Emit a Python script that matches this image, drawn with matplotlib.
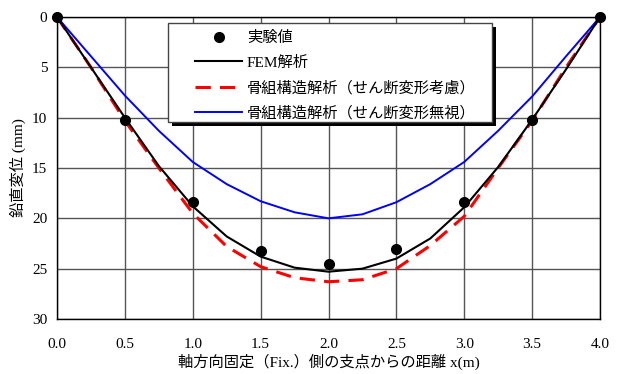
import numpy as np
import matplotlib
matplotlib.use('Agg')
import matplotlib.pyplot as plt
from matplotlib.patches import Rectangle

plt.rcParams['font.family'] = ['Liberation Serif', 'Noto Sans CJK JP']

# measured points
x_exp = [0.0, 0.5, 1.0, 1.5, 2.0, 2.5, 3.0, 3.5, 4.0]
d_exp = [0.0, 10.2, 18.4, 23.2, 24.5, 23.0, 18.4, 10.2, 0.0]

# analysis curves (x every 0.25 m)
x_ana = [0.0, 0.25, 0.5, 0.75, 1.0, 1.25, 1.5, 1.75, 2.0, 2.25, 2.5, 2.75, 3.0, 3.25, 3.5, 3.75, 4.0]
d_fem = [0.0, 5.0, 10.0, 14.8, 18.8, 21.8, 23.8, 24.9, 25.3, 25.0, 24.0, 22.0, 18.9, 14.9, 10.2, 5.2, 0.0]
d_shear = [0.0, 5.0, 10.3, 15.0, 19.5, 22.8, 24.8, 25.9, 26.3, 26.1, 25.0, 22.7, 19.8, 15.0, 10.3, 5.0, 0.0]
d_noshear = [0.0, 3.9, 7.8, 11.3, 14.4, 16.6, 18.3, 19.4, 20.0, 19.6, 18.4, 16.6, 14.4, 11.3, 7.9, 3.9, 0.0]

labels = ['実験値', 'FEM解析', '骨組構造解析（せん断変形考慮）', '骨組構造解析（せん断変形無視）']

fig = plt.figure(figsize=(6.24, 3.74), dpi=100)
ax = fig.add_axes([57/624, 1 - 319/374, 543/624, 302/374])

ax.plot(x_exp, d_exp, 'o', color='k', markersize=7, label=labels[0], zorder=5, clip_on=False)
ax.plot(x_ana, d_fem, '-', color='k', lw=1.5, label=labels[1], zorder=4)
ax.plot(x_ana, d_shear, '--', color='red', lw=2.2, dashes=(5, 3), label=labels[2], zorder=3)
ax.plot(x_ana, d_noshear, '-', color='blue', lw=1.4, label=labels[3], zorder=3)

ax.set_xlim(0, 4)
ax.set_ylim(30, 0)
ax.set_xticks(np.arange(0, 4.01, 0.5))
ax.set_xticklabels(['%.1f' % v for v in np.arange(0, 4.01, 0.5)])
ax.set_yticks(np.arange(0, 31, 5))
ax.grid(True, color='#555555', lw=1.0)
ax.tick_params(labelsize=11, length=0)
ax.tick_params(axis='x', pad=14)
ax.tick_params(axis='y', pad=7)
for s in ax.spines.values():
    s.set_linewidth(1.0)

ax.set_xlabel('軸方向固定（Fix.）側の支点からの距離 x(m)', fontsize=11, labelpad=2)
ax.set_ylabel('鉛直変位 (mm)', fontsize=11, labelpad=4)

# legend frame drawn by hand (box with black drop shadow)
W, H = 543.0, 302.0
bx0, by0, bx1, by1 = (168 - 57) / W, (319 - 122) / H, (492 - 57) / W, (319 - 23) / H
ax.add_patch(Rectangle((bx0 + 4 / W, by0 - 4 / H), bx1 - bx0, by1 - by0, transform=ax.transAxes,
                       facecolor='k', edgecolor='none', zorder=6))
ax.add_patch(Rectangle((bx0, by0), bx1 - bx0, by1 - by0, transform=ax.transAxes,
                       facecolor='white', edgecolor='#444444', lw=1.0, zorder=6.5))

leg = ax.legend(loc='upper left', bbox_to_anchor=((195 - 57) / W, (319 - 31) / H), fontsize=11,
                frameon=False, handlelength=3.1, handletextpad=0.3, borderpad=0,
                borderaxespad=0, labelspacing=0.7)
leg.set_zorder(7)

plt.savefig('out.png', dpi=100)
